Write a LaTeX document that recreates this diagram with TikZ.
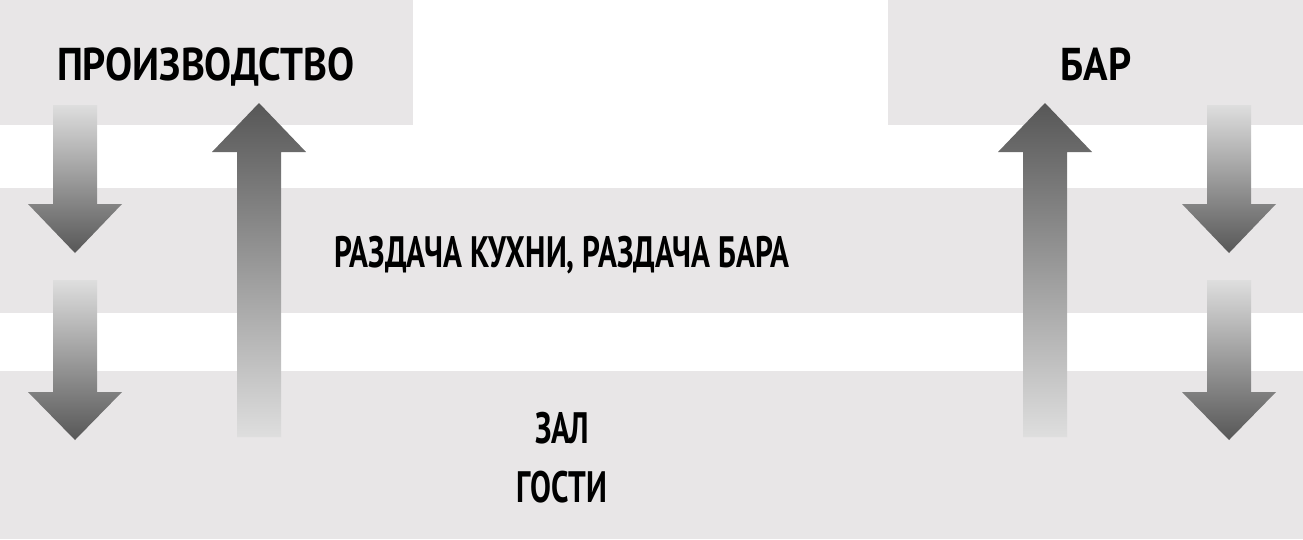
\documentclass[tikz,border=0pt]{standalone}
\usepackage{fontspec}
\setmainfont{PT Sans}
\newfontfamily\topfont{PT Sans}[FakeStretch=0.88]
\newfontfamily\lowfont{PT Sans}[FakeStretch=0.71]
\definecolor{bandgray}{HTML}{E8E6E7}
\definecolor{arrdark}{HTML}{575757}
\definecolor{arrmid}{HTML}{8E8E8E}
\definecolor{arrlight}{HTML}{DEDEDE}
\newcommand\flowarrow[5]{% x, shaft end y, head base y, tip y, shading
  \shade[#5] (#1-22,#2) -- (#1+22,#2) -- (#1+22,#3) -- (#1+47,#3) -- (#1,#4)
    -- (#1-47,#3) -- (#1-22,#3) -- cycle;}
\begin{document}
\begin{tikzpicture}[x=1pt,y=-1pt,
  band/.style={fill=bandgray, draw=none, inner sep=0pt, outer sep=0pt, anchor=north west},
  toplbl/.style={font=\topfont\bfseries\fontsize{46}{52}\selectfont, text=black, inner sep=0pt, anchor=base},
  lowlbl/.style={font=\lowfont\bfseries\fontsize{44}{52}\selectfont, text=black, inner sep=0pt, anchor=base},
  downshade/.style={top color=arrlight, middle color=arrmid, bottom color=arrdark},
  upshade/.style={top color=arrdark, middle color=arrmid, bottom color=arrlight}]
\useasboundingbox (0,0) rectangle (1303,539);
% bands
\node[band, minimum width=413pt, minimum height=125pt] (prod) at (0,0) {};
\node[band, minimum width=415pt, minimum height=125pt] (bar) at (888,0) {};
\node[band, minimum width=1303pt, minimum height=125pt] (razd) at (0,188) {};
\node[band, minimum width=1303pt, minimum height=168pt] (zal) at (0,371) {};
% labels
\node[toplbl] (tprod) at (206,80) {ПРОИЗВОДСТВО};
\node[toplbl] (tbar) at (1096,80) {БАР};
\node[lowlbl] (trazd) at (562,267) {РАЗДАЧА КУХНИ, РАЗДАЧА БАРА};
\node[lowlbl] (tzal) at (562,443) {ЗАЛ};
\node[lowlbl] (tgost) at (562,502) {ГОСТИ};
% arrows
\flowarrow{75}{105}{204}{253}{downshade}
\flowarrow{75}{280}{392}{440}{downshade}
\flowarrow{259}{437}{152}{103}{upshade}
\flowarrow{1045}{437}{152}{103}{upshade}
\flowarrow{1229}{105}{204}{253}{downshade}
\flowarrow{1229}{280}{392}{440}{downshade}
\end{tikzpicture}
\end{document}
